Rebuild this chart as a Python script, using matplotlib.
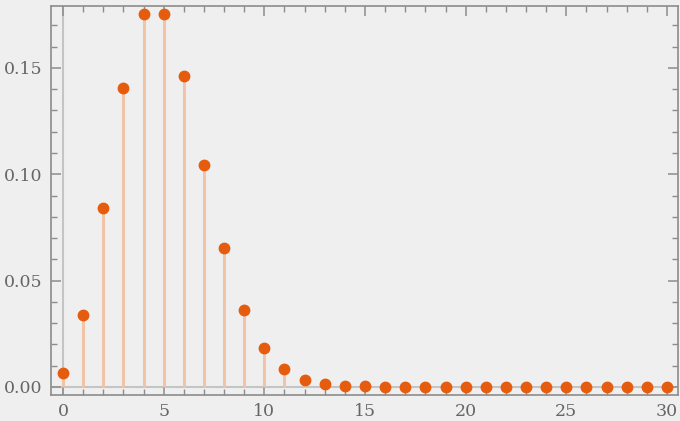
import matplotlib.pyplot as plt
from matplotlib.ticker import MultipleLocator

k = list(range(31))
prob = [0.0067, 0.0337, 0.0842, 0.1404, 0.1755, 0.1755, 0.1462, 0.1044,
        0.0653, 0.0363, 0.0181, 0.0082, 0.0034, 0.0013, 0.0005, 0.0002,
        0.0000, 0.0000, 0.0000, 0.0000, 0.0000, 0.0000, 0.0000, 0.0000,
        0.0000, 0.0000, 0.0000, 0.0000, 0.0000, 0.0000, 0.0000]

bg = '#efefef'
plt.rcParams['font.family'] = ['DejaVu Serif']

fig = plt.figure(figsize=(6.8, 4.21), dpi=100, facecolor=bg)
ax = fig.add_axes([51 / 680, 26 / 421, 627 / 680, 389 / 421])
ax.set_facecolor(bg)

ax.axhline(0, color='#c4c4c4', lw=1.5, zorder=1)
ax.axvline(0, color='#c4c4c4', lw=1.5, zorder=1)
ax.vlines(k, 0, prob, color='#f1c4a8', lw=2.2, zorder=2)
ax.plot(k, prob, 'o', color='#e65c0e', ms=7.5, zorder=3)

ax.set_xlim(-0.6, 30.55)
ax.set_ylim(-0.0038, 0.1791)
ax.xaxis.set_major_locator(MultipleLocator(5))
ax.xaxis.set_minor_locator(MultipleLocator(1))
ax.yaxis.set_major_locator(MultipleLocator(0.05))
ax.yaxis.set_minor_locator(MultipleLocator(0.01))
ax.yaxis.set_major_formatter(lambda v, p: f'{v:.2f}')

for s in ax.spines.values():
    s.set_color('#8c8c8c')
    s.set_linewidth(1.2)
ax.tick_params(which='both', direction='in', top=True, right=True,
               color='#8c8c8c', labelcolor='#666666', labelsize=12.5)
ax.tick_params(which='major', length=7, width=1.1)
ax.tick_params(which='minor', length=4, width=1.0)
ax.tick_params(axis='x', pad=6)
ax.tick_params(axis='y', pad=6)

fig.savefig('out.png', dpi=100, facecolor=bg)
